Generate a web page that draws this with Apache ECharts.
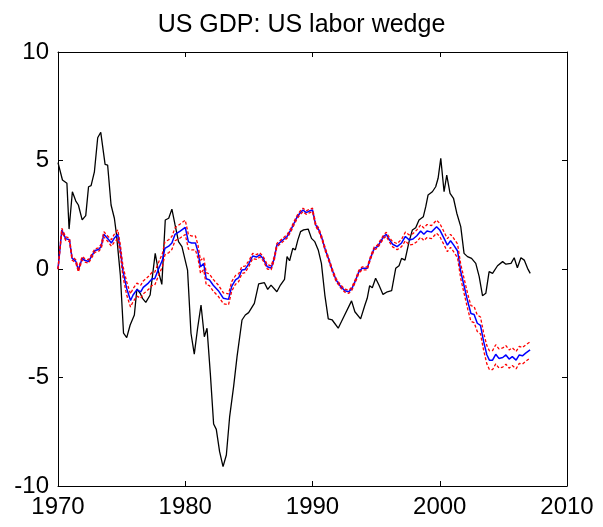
<!DOCTYPE html>
<html>
<head>
<meta charset="utf-8">
<title>US GDP: US labor wedge</title>
<script src="https://cdn.jsdelivr.net/npm/echarts@6/dist/echarts.min.js"></script>
<style>
  html, body { margin: 0; padding: 0; background: #fff; }
  #chart { width: 603px; height: 527px; }
</style>
</head>
<body>
<div id="chart"></div>
<script>
// black line: GDP deviation
const gdpYears = [1970.0, 1970.35, 1970.7, 1970.87, 1971.13, 1971.4, 1971.6, 1971.9, 1972.18, 1972.4, 1972.6, 1972.86, 1973.12, 1973.36, 1973.7, 1973.9, 1974.17, 1974.43, 1974.6, 1974.9,
  1975.15, 1975.4, 1975.67, 1976.0, 1976.2, 1976.46, 1976.64, 1976.9, 1977.24, 1977.64, 1977.9, 1978.16, 1978.43, 1978.7, 1978.95, 1979.2, 1979.47, 1979.74,
  1980.18, 1980.45, 1980.71, 1980.97, 1981.24, 1981.5, 1981.71, 1981.97, 1982.23, 1982.44, 1982.7, 1982.97, 1983.23, 1983.49, 1983.8, 1984.07, 1984.46, 1984.72, 1984.98,
  1985.43, 1985.77, 1986.22, 1986.48, 1986.74, 1987.2, 1987.48, 1987.8, 1988.0, 1988.2, 1988.45, 1988.65, 1988.85, 1989.06, 1989.3, 1989.66, 1989.92,
  1990.18, 1990.45, 1990.7, 1990.97, 1991.24, 1991.55, 1992.02, 1992.46, 1993.07, 1993.33, 1993.78, 1994.12, 1994.3, 1994.49, 1994.7, 1994.96,
  1995.22, 1995.54, 1995.88, 1996.22, 1996.54, 1996.8, 1997.0, 1997.27, 1997.59, 1997.85, 1998.11, 1998.37, 1998.71, 1998.9, 1999.08, 1999.42, 1999.68, 1999.87,
  2000.08, 2000.34, 2000.55, 2000.81, 2001.08, 2001.34, 2001.65, 2001.91, 2002.18, 2002.5, 2002.83, 2003.1, 2003.36, 2003.62, 2003.88, 2004.15, 2004.54, 2004.94,
  2005.2, 2005.6, 2005.85, 2006.1, 2006.38, 2006.64, 2006.9, 2007.11];
const gdp = [4.9, 4.1, 3.95, 1.84, 3.56, 3.13, 2.95, 2.26, 2.46, 3.79, 3.84, 4.48, 6.05, 6.3, 4.82, 4.79, 2.95, 2.34, 1.57, -0.28,
  -2.96, -3.16, -2.58, -2.12, -0.92, -1.12, -1.35, -1.54, -1.2, 0.72, -0.12, -0.71, 2.26, 2.34, 2.76, 2.03, 1.26, 1.03,
  -0.05, -2.96, -3.92, -2.73, -1.66, -3.12, -2.73, -4.81, -7.14, -7.39, -8.42, -9.11, -8.57, -6.8, -5.42, -4.04, -2.35, -2.12, -2.01,
  -1.58, -0.69, -0.63, -0.94, -0.74, -1.05, -0.74, -0.48, 0.57, 0.38, 0.95, 0.88, 1.34, 1.72, 1.8, 1.84, 1.41,
  1.26, 0.88, 0.26, -1.2, -2.3, -2.35, -2.73, -2.2, -1.47, -1.97, -2.3, -1.66, -1.35, -0.77, -0.86, -0.43,
  -0.74, -1.17, -1.05, -1.0, 0.03, 0.15, 0.49, 0.41, 1.26, 1.8, 1.9, 2.26, 2.41, 2.87, 3.41, 3.56, 3.79, 4.18,
  5.1, 3.56, 4.33, 3.49, 3.26, 2.57, 1.95, 0.72, 0.57, 0.49, 0.26, -0.35, -1.23, -1.12, -0.12, -0.2, 0.15, 0.34,
  0.22, 0.26, 0.52, 0.06, 0.52, 0.41, 0.03, -0.2];

// blue line: labor wedge simulation, red dashed: its band
const wedgeYears = [1970.0, 1970.3, 1970.6, 1970.9, 1971.1, 1971.4, 1971.6, 1971.9, 1972.1, 1972.4, 1972.6, 1972.9, 1973.2, 1973.4, 1973.6, 1973.9, 1974.2, 1974.4, 1974.7, 1974.9,
  1975.1, 1975.4, 1975.7, 1975.9, 1976.2, 1976.5, 1976.7, 1977.1, 1977.4, 1977.6, 1977.9, 1978.2, 1978.4, 1978.7, 1978.95, 1979.2, 1979.6,
  1980.0, 1980.25, 1980.5, 1980.8, 1981.0, 1981.2, 1981.45, 1981.65, 1981.9, 1982.2, 1982.6, 1983.0, 1983.4, 1983.65, 1983.95, 1984.2, 1984.45, 1984.7,
  1985.0, 1985.3, 1985.6, 1985.85, 1986.1, 1986.45, 1986.75, 1987.0, 1987.2, 1987.6, 1988.0, 1988.3, 1988.5, 1988.75, 1989.0, 1989.25, 1989.5, 1989.75,
  1990.0, 1990.25, 1990.5, 1990.75, 1991.0, 1991.3, 1991.55, 1991.85, 1992.2, 1992.55, 1992.85, 1993.1, 1993.4, 1993.65, 1993.9, 1994.3, 1994.55, 1994.85,
  1995.1, 1995.35, 1995.6, 1995.8, 1996.05, 1996.3, 1996.65, 1997.0, 1997.3, 1997.6, 1997.9, 1998.2, 1998.5, 1998.75, 1999.0, 1999.35, 1999.75,
  2000.0, 2000.35, 2000.6, 2000.85, 2001.1, 2001.4, 2001.65, 2001.9, 2002.2, 2002.45, 2002.7, 2002.95, 2003.2, 2003.45, 2003.7, 2003.9, 2004.15, 2004.4, 2004.65, 2004.95,
  2005.2, 2005.45, 2005.7, 2006.0, 2006.25, 2006.5, 2006.75, 2007.1];
const wedge = [0.0, 1.8, 1.4, 1.35, 0.5, 0.35, -0.05, 0.5, 0.4, 0.35, 0.55, 0.85, 0.9, 1.05, 1.6, 1.4, 1.2, 1.4, 1.6, 0.9,
  -0.1, -0.9, -1.45, -1.2, -0.95, -1.05, -0.85, -0.65, -0.45, -0.45, 0.0, 0.4, 0.95, 1.05, 1.2, 1.6, 1.75,
  1.92, 1.25, 1.2, 1.2, 0.8, 0.1, 0.25, -0.45, -0.5, -0.75, -1.0, -1.35, -1.4, -0.8, -0.5, -0.4, -0.05, -0.02,
  0.25, 0.6, 0.55, 0.65, 0.5, 0.1, 0.05, 0.5, 1.1, 1.3, 1.5, 1.8, 2.05, 2.35, 2.57, 2.72, 2.6, 2.67,
  2.72, 2.03, 1.8, 1.4, 0.9, 0.4, -0.05, -0.5, -0.8, -1.0, -1.05, -0.9, -0.5, -0.12, 0.03, 0.03, 0.5, 0.95,
  1.03, 1.26, 1.5, 1.6, 1.34, 1.14, 1.03, 1.2, 1.5, 1.34, 1.38, 1.53, 1.75, 1.6, 1.75, 1.7, 1.95,
  1.8, 1.4, 1.1, 1.3, 1.1, 0.83, -0.12, -0.75, -1.5, -2.05, -2.1, -2.5, -2.6, -3.35, -3.95, -4.2, -4.2, -3.93, -4.12, -4.08,
  -3.96, -4.15, -4.04, -4.2, -3.96, -4.0, -3.88, -3.73];
const wedgeHi = [0.02, 1.88, 1.48, 1.43, 0.58, 0.43, 0.03, 0.58, 0.48, 0.43, 0.63, 0.93, 0.98, 1.15, 1.72, 1.52, 1.35, 1.58, 1.8, 1.12,
  0.15, -0.6, -1.15, -0.9, -0.65, -0.75, -0.55, -0.35, -0.15, -0.15, 0.3, 0.7, 1.25, 1.35, 1.5, 1.9, 2.07,
  2.25, 1.58, 1.52, 1.52, 1.1, 0.4, 0.53, -0.17, -0.23, -0.48, -0.74, -1.1, -1.15, -0.58, -0.3, -0.22, 0.11, 0.13,
  0.38, 0.72, 0.66, 0.75, 0.6, 0.2, 0.14, 0.59, 1.18, 1.38, 1.58, 1.88, 2.13, 2.43, 2.65, 2.8, 2.68, 2.75,
  2.8, 2.1, 1.87, 1.47, 0.97, 0.47, 0.02, -0.43, -0.73, -0.93, -0.98, -0.83, -0.43, -0.05, 0.1, 0.1, 0.57, 1.02,
  1.1, 1.34, 1.58, 1.69, 1.44, 1.26, 1.17, 1.37, 1.7, 1.57, 1.63, 1.8, 2.03, 1.89, 2.05, 2.0, 2.25,
  2.1, 1.7, 1.4, 1.6, 1.41, 1.15, 0.21, -0.41, -1.15, -1.69, -1.73, -2.12, -2.21, -2.95, -3.53, -3.77, -3.76, -3.49, -3.68, -3.64,
  -3.53, -3.73, -3.63, -3.8, -3.57, -3.62, -3.5, -3.36];
const wedgeLo = [-0.02, 1.72, 1.32, 1.27, 0.42, 0.27, -0.13, 0.42, 0.32, 0.27, 0.47, 0.77, 0.82, 0.95, 1.48, 1.28, 1.05, 1.22, 1.4, 0.68,
  -0.35, -1.2, -1.75, -1.5, -1.25, -1.35, -1.15, -0.95, -0.75, -0.75, -0.3, 0.1, 0.65, 0.75, 0.9, 1.3, 1.43,
  1.59, 0.92, 0.88, 0.88, 0.5, -0.2, -0.03, -0.73, -0.77, -1.02, -1.26, -1.6, -1.65, -1.02, -0.7, -0.58, -0.21, -0.17,
  0.12, 0.48, 0.44, 0.55, 0.4, 0.0, -0.04, 0.41, 1.02, 1.22, 1.42, 1.72, 1.97, 2.27, 2.49, 2.64, 2.52, 2.59,
  2.64, 1.96, 1.73, 1.33, 0.83, 0.33, -0.12, -0.57, -0.87, -1.07, -1.12, -0.97, -0.57, -0.19, -0.04, -0.04, 0.43, 0.88,
  0.96, 1.18, 1.42, 1.51, 1.24, 1.02, 0.89, 1.03, 1.3, 1.11, 1.13, 1.26, 1.47, 1.31, 1.45, 1.4, 1.65,
  1.5, 1.1, 0.8, 1.0, 0.79, 0.51, -0.45, -1.09, -1.85, -2.41, -2.47, -2.88, -2.99, -3.75, -4.37, -4.63, -4.64, -4.37, -4.56, -4.52,
  -4.39, -4.57, -4.45, -4.6, -4.35, -4.38, -4.26, -4.1];

const xTicks = [1970, 1980, 1990, 2000, 2010];
const yTicks = [-10, -5, 0, 5, 10];

function pairs(xs, ys) {
  return xs.map(function (x, i) { return [x, ys[i]]; });
}

const myChart = echarts.init(document.getElementById('chart'), null, { renderer: 'canvas' });
const font = 'Liberation Sans, Arial, sans-serif';

function axisBase(show) {
  return {
    type: 'value',
    axisLine: { show: true, onZero: false, lineStyle: { color: '#000', width: 1 } },
    axisTick: { show: true, inside: true, length: 5, lineStyle: { color: '#000', width: 1 } },
    splitLine: { show: false },
    axisLabel: { show: show, color: '#000', fontFamily: font, fontSize: 24 }
  };
}

const option = {
  animation: false,
  backgroundColor: '#fff',
  title: {
    text: 'US GDP: US labor wedge',
    left: 'center',
    top: 8,
    textStyle: { fontFamily: font, fontSize: 25, fontWeight: 'normal', color: '#000' }
  },
  grid: { left: 58, right: 36, top: 52, bottom: 41 },
  xAxis: [
    Object.assign(axisBase(true), { min: 1970, max: 2010, interval: 10, position: 'bottom',
      axisLabel: { show: true, color: '#000', fontFamily: font, fontSize: 24, margin: 9,
        formatter: function (v) { return xTicks.indexOf(v) >= 0 ? String(v) : ''; } } }),
    Object.assign(axisBase(false), { min: 1970, max: 2010, interval: 10, position: 'top' })
  ],
  yAxis: [
    Object.assign(axisBase(true), { min: -10, max: 10, interval: 5, position: 'left',
      axisLabel: { show: true, color: '#000', fontFamily: font, fontSize: 24, margin: 9,
        formatter: function (v) { return yTicks.indexOf(v) >= 0 ? String(v) : ''; } } }),
    Object.assign(axisBase(false), { min: -10, max: 10, interval: 5, position: 'right' })
  ],
  series: [
    {
      name: 'GDP', type: 'line', showSymbol: false, symbol: 'none',
      data: pairs(gdpYears, gdp),
      lineStyle: { color: '#000', width: 1.3 }
    },
    {
      name: 'labor wedge', type: 'line', showSymbol: false, symbol: 'none',
      data: pairs(wedgeYears, wedge),
      lineStyle: { color: '#0000ff', width: 1.5 }
    },
    {
      name: 'upper', type: 'line', showSymbol: false, symbol: 'none',
      data: pairs(wedgeYears, wedgeHi),
      lineStyle: { color: '#ff0000', width: 1.3, type: [3, 2] }
    },
    {
      name: 'lower', type: 'line', showSymbol: false, symbol: 'none',
      data: pairs(wedgeYears, wedgeLo),
      lineStyle: { color: '#ff0000', width: 1.3, type: [3, 2] }
    }
  ]
};

myChart.setOption(option);
</script>
</body>
</html>
